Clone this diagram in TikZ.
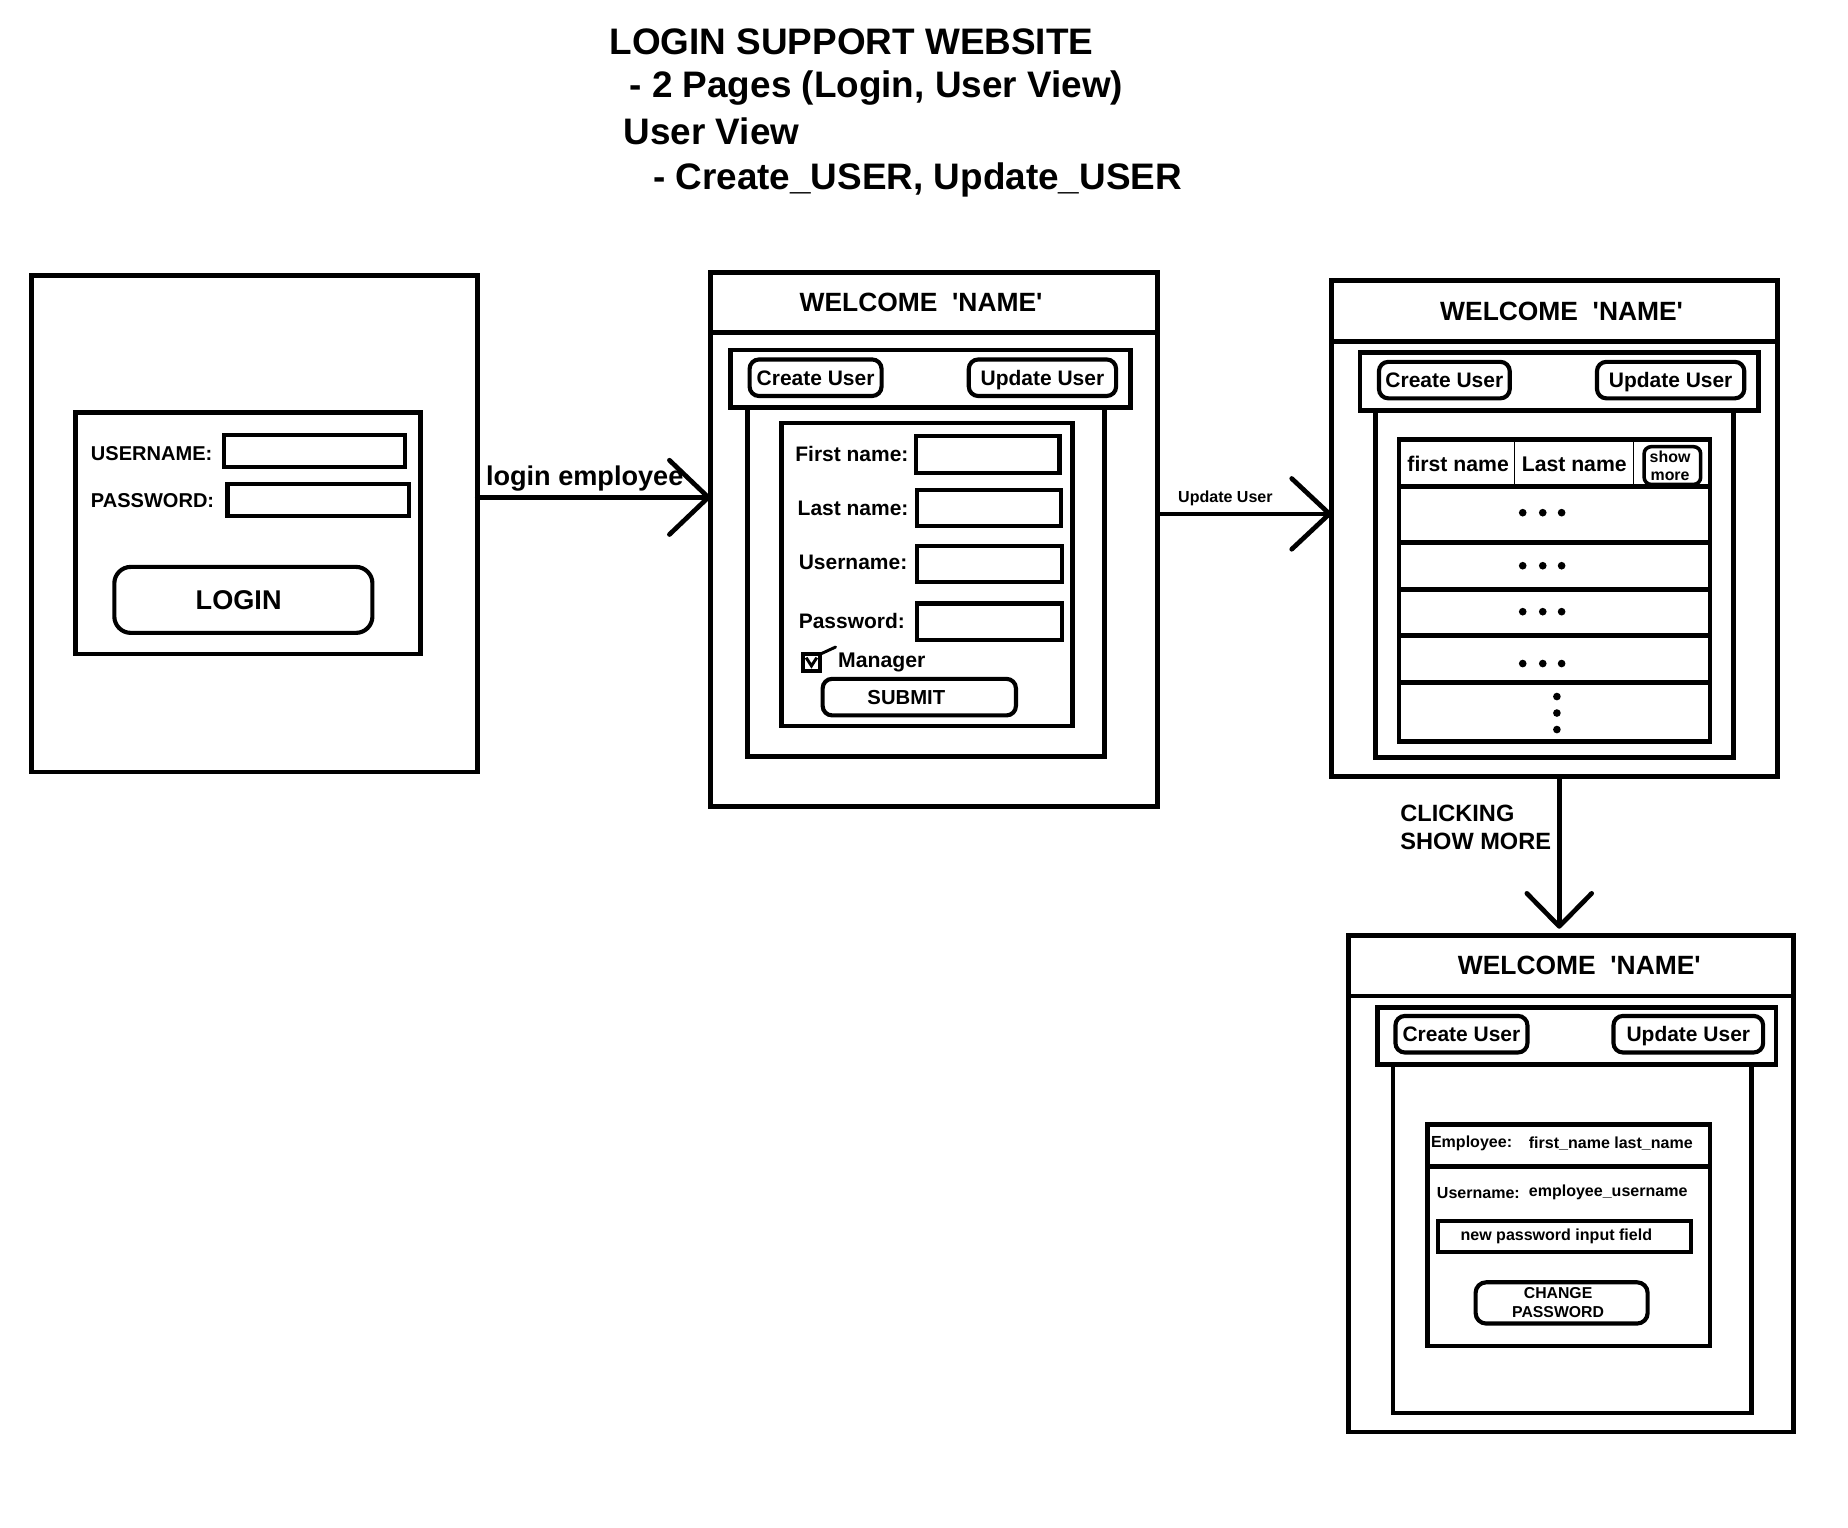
\documentclass[tikz,border=0pt]{standalone}
\usepackage{fontspec}
\setmainfont{Liberation Sans}
\usetikzlibrary{arrows.meta,positioning,fit}
\newcommand{\bsz}[2]{\fontsize{#1}{#2}\selectfont\bfseries}
\newcommand{\welcometext}{WELCOME\ \ \textquotesingle NAME\textquotesingle}

\begin{document}
\begin{tikzpicture}[x=1pt, y=-1pt,
  frame/.style={draw, line width=4pt, inner sep=0pt, outer sep=0pt},
  field/.style={draw, line width=3.5pt, inner sep=0pt, outer sep=0pt},
  btn/.style={draw, line width=3.5pt, rounded corners=8pt, inner sep=0pt, outer sep=0pt},
  btntext/.style={inner sep=0pt, font=\bsz{17.8}{20}},
  bartext/.style={btntext, text height=12.8pt, text depth=0pt},
  headtext/.style={inner sep=0pt, font=\bsz{22.4}{26}},
  smalltext/.style={inner sep=0pt, font=\bsz{13.6}{16}},
  lbl/.style={inner sep=0pt, font=\bsz{17.8}{20}},
  small/.style={inner sep=0pt, font=\bsz{13.6}{16}},
  headline/.style={inner sep=0pt, anchor=base west, font=\bsz{31.3}{36}},
  dot/.style={circle, fill, inner sep=0pt, minimum size=6.5pt},
  arr/.style={line width=4pt, line cap=round, line join=round}
]
\useasboundingbox (0,0) rectangle (1568,1296);

% title
\node[headline] (title) at (517,46) {LOGIN SUPPORT WEBSITE};
\node[headline] (pages) at (534,83) {- 2 Pages (Login, User View)};
\node[headline] (view) at (529,123) {User View};
\node[headline] (actions) at (554,161) {- Create\_USER, Update\_USER};

% login page
\node[frame, fit={(27,234) (405,655)}] (login) {};
\node[frame, fit={(64,350) (357,555)}] (loginform) {};
\node[lbl, anchor=west, font=\bsz{17}{20}] (userlbl) at (77,385) {USERNAME:};
\node[field, fit={(190,369) (344,396)}] (userfield) {};
\node[lbl, anchor=west, font=\bsz{17}{20}] (passlbl) at (77,425) {PASSWORD:};
\node[field, fit={(193,411) (347,438)}] (passfield) {};
\node[btn, rounded corners=14pt, fit={(97,481) (316,537)},
      label={[btntext, font=\bsz{23}{26}, xshift=-4pt]center:LOGIN}] (loginbtn) {};

% create user page
\node[frame, fit={(603,231) (982,684)}] (create) {};
\node[frame, fit={(603,231) (982,282)},
      label={[headtext, xshift=-11pt]center:\welcometext}] (createhead) {};
\node[frame, fit={(620,297) (959,346)}] (createbar) {};
\node[btn, fit={(636,305) (748,336)}, label={[bartext]center:Create User}] (createbtnA) {};
\node[btn, fit={(822,305) (947,336)}, label={[bartext]center:Update User}] (createbtnB) {};
\node[frame, fit={(634,346) (937,642)}] (createbody) {};
\node[frame, fit={(663,359) (910,616)}] (userform) {};
\node[lbl, anchor=east] (fnlbl) at (771,385) {First name:};
\node[field, fit={(777,370) (899,401)}] (fnfield) {};
\node[lbl, anchor=east] (lnlbl) at (771,431) {Last name:};
\node[field, fit={(778,416) (900,446)}] (lnfield) {};
\node[lbl, anchor=east] (unlbl) at (770,477) {Username:};
\node[field, fit={(778,463) (901,494)}] (unfield) {};
\node[lbl, anchor=east] (pwlbl) at (768,527) {Password:};
\node[field, fit={(778,512) (901,543)}] (pwfield) {};
\node[field, fit={(681,555) (696,569)}] (mgrbox) {};
\draw[line width=2.5pt] (684,558) -- (688.5,565) -- (693,558);
\draw[arr, line width=2.5pt] (mgrbox.north east) -- (709,549);
\node[lbl, anchor=west, font=\bsz{18}{20}] (mgrlbl) at (711,562) {Manager};
\node[btn, fit={(698,576) (862,607)},
      label={[btntext, font=\bsz{17.2}{20}, xshift=-11pt]center:SUBMIT}] (submit) {};

% user list page
\node[frame, fit={(1130,238) (1508,659)}] (list) {};
\node[frame, fit={(1130,238) (1508,290)},
      label={[headtext, xshift=6pt]center:\welcometext}] (listhead) {};
\node[frame, fit={(1154,299) (1492,348)}] (listbar) {};
\node[btn, fit={(1170,307) (1281,338)}, label={[bartext]center:Create User}] (listbtnA) {};
\node[btn, fit={(1355,307) (1480,338)}, label={[bartext]center:Update User}] (listbtnB) {};
\node[frame, fit={(1167,348) (1471,643)}] (listbody) {};
\node[frame, fit={(1187,373) (1451,629)}] (table) {};
\foreach \y in {413,460,500,539,579}
  \draw[line width=4pt] (1187,\y) -- (1451,\y);
\foreach \x in {1285,1386}
  \draw[line width=1.2pt] (\x,373) -- (\x,413);
\node[lbl, anchor=west, font=\bsz{18}{20}] (fncol) at (1194,394) {first name};
\node[lbl, anchor=west, font=\bsz{18}{20}] (lncol) at (1291,394) {Last name};
\node[btn, line width=3pt, rounded corners=6pt, fit={(1395,379) (1443,411)},
      label={[btntext, align=center, font=\bsz{13.5}{15.5}, xshift=-2pt]center:show\\more}] (showmore) {};
\foreach \y in {435,480,519,563}
  \foreach \x in {1292,1309,1325}
    \node[dot] (d\x\y) at (\x,\y) {};
\foreach \y in {591,605,619}
  \node[dot] (v\y) at (1321,\y) {};

% employee detail page
\node[frame, fit={(1144,794) (1522,1215)}] (detail) {};
\node[frame, fit={(1144,794) (1522,845)},
      label={[headtext, xshift=7pt]center:\welcometext}] (detailhead) {};
\node[frame, fit={(1169,855) (1507,903)}] (detailbar) {};
\node[btn, fit={(1184,862) (1296,893)}, label={[bartext]center:Create User}] (detailbtnA) {};
\node[btn, fit={(1369,862) (1496,893)}, label={[bartext]center:Update User}] (detailbtnB) {};
\node[frame, fit={(1182,903) (1486,1199)}] (detailbody) {};
\node[frame, fit={(1211,954) (1451,1142)}] (info) {};
\draw[line width=4pt] (1211,990) -- (1451,990);
\node[small, anchor=west] (emplbl) at (1214,970) {Employee:};
\node[small, anchor=west] (empname) at (1297,970) {first\_name last\_name};
\node[small, anchor=west] (uslbl) at (1219,1012) {Username:};
\node[small, anchor=west] (usval) at (1297,1012) {employee\_username};
\node[field, fit={(1220,1036) (1435,1062)},
      label={[smalltext, xshift=-7pt]center:new password input field}] (newpass) {};
\node[btn, rounded corners=9pt, fit={(1252,1088) (1398,1123)},
      label={[smalltext, align=center, font=\bsz{13.4}{16}, xshift=-3pt]center:CHANGE\\PASSWORD}] (changebtn) {};

% flow
\draw[arr, -{Straight Barb[length=33pt, width=63pt, round]}] ([yshift=22.5pt]login.east)
  -- node[pos=0.46, above=3pt, inner sep=0pt, font=\bsz{23}{26}] (loginlbl) {login employee}
  ([yshift=22.5pt]login.east -| create.west);
\draw[arr, -{Straight Barb[length=32pt, width=60pt, round]}] ([yshift=21.5pt]create.east)
  -- node[pos=0.39, above=5pt, inner sep=0pt, font=\bsz{13.6}{16}] (updlbl) {Update User}
  ([yshift=21.5pt]create.east -| list.west);
\draw[arr, -{Straight Barb[length=28pt, width=55pt, round]}, shorten >=6pt] ([xshift=4pt]list.south)
  -- node[pos=0.32, left=5pt, align=left, inner sep=0pt, font=\bsz{20}{24}] (showlbl) {CLICKING\\SHOW MORE}
  ([xshift=4pt]list.south |- detail.north);
\end{tikzpicture}
\end{document}
